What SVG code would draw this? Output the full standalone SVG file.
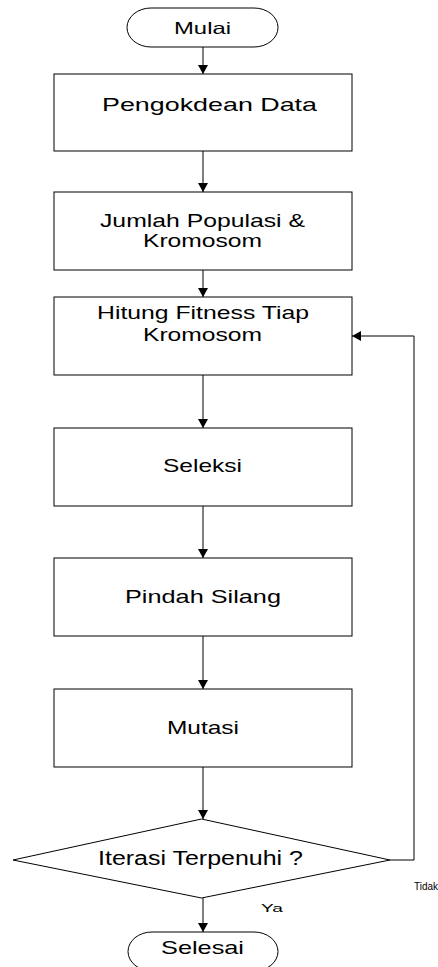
<svg xmlns="http://www.w3.org/2000/svg" width="438" height="967" viewBox="0 0 438 967">
<style>
.shape{fill:#fff;stroke:#000;stroke-width:1}
.conn{fill:none;stroke:#000;stroke-width:1}
text{font-family:"Liberation Sans",Arial,sans-serif;fill:#000}
.t{font-size:19px}
.s{font-size:10px}
</style>
<defs>
<marker id="arr" markerUnits="userSpaceOnUse" markerWidth="10" markerHeight="10" refX="9" refY="5" orient="auto">
<path d="M0,0 L9,5 L0,10 Z" fill="#000"/>
</marker>
</defs>
<g id="connectors">
<line class="conn" x1="203" y1="47" x2="203" y2="74" marker-end="url(#arr)"/>
<line class="conn" x1="203" y1="151" x2="203" y2="192" marker-end="url(#arr)"/>
<line class="conn" x1="203" y1="270" x2="203" y2="297" marker-end="url(#arr)"/>
<line class="conn" x1="203" y1="375" x2="203" y2="428" marker-end="url(#arr)"/>
<line class="conn" x1="203" y1="506" x2="203" y2="558" marker-end="url(#arr)"/>
<line class="conn" x1="203" y1="636" x2="203" y2="689" marker-end="url(#arr)"/>
<line class="conn" x1="203" y1="767" x2="203" y2="819" marker-end="url(#arr)"/>
<line class="conn" x1="203" y1="898" x2="203" y2="932" marker-end="url(#arr)"/>
<polyline class="conn" points="390,860 414,860 414,336 352,336" marker-end="url(#arr)"/>
<text class="s" x="261" y="912" textLength="22" lengthAdjust="spacingAndGlyphs">Ya</text>
<text class="s" x="414" y="890" textLength="24" lengthAdjust="spacingAndGlyphs">Tidak</text>
</g>
<g id="mulai">
<rect class="shape" x="127" y="8" width="151" height="39" rx="24" ry="19.5"/>
<text x="174" y="33.5" font-size="16.5" textLength="57" lengthAdjust="spacingAndGlyphs">Mulai</text>
</g>
<g id="pengkodean">
<rect class="shape" x="54" y="74" width="298" height="77"/>
<text class="t" x="102" y="111" textLength="215" lengthAdjust="spacingAndGlyphs">Pengokdean Data</text>
</g>
<g id="populasi">
<rect class="shape" x="54" y="192" width="298" height="78"/>
<text class="t" x="100" y="227" textLength="205" lengthAdjust="spacingAndGlyphs">Jumlah Populasi &amp;</text>
<text class="t" x="143" y="247" textLength="119" lengthAdjust="spacingAndGlyphs">Kromosom</text>
</g>
<g id="fitness">
<rect class="shape" x="54" y="297" width="298" height="78"/>
<text class="t" x="97" y="319" textLength="212" lengthAdjust="spacingAndGlyphs">Hitung Fitness Tiap</text>
<text class="t" x="143" y="341" textLength="119" lengthAdjust="spacingAndGlyphs">Kromosom</text>
</g>
<g id="seleksi">
<rect class="shape" x="54" y="428" width="298" height="78"/>
<text class="t" x="163" y="472" textLength="79" lengthAdjust="spacingAndGlyphs">Seleksi</text>
</g>
<g id="pindahsilang">
<rect class="shape" x="54" y="558" width="298" height="78"/>
<text class="t" x="125" y="603" textLength="156" lengthAdjust="spacingAndGlyphs">Pindah Silang</text>
</g>
<g id="mutasi">
<rect class="shape" x="54" y="689" width="298" height="78"/>
<text class="t" x="167" y="734" textLength="72" lengthAdjust="spacingAndGlyphs">Mutasi</text>
</g>
<g id="iterasi">
<polygon class="shape" points="201.5,819 390,860 201.5,898 13,860"/>
<text x="98" y="865" font-size="19.5" textLength="205" lengthAdjust="spacingAndGlyphs">Iterasi Terpenuhi ?</text>
</g>
<g id="selesai">
<rect class="shape" x="128" y="932" width="150" height="39" rx="24" ry="19.5"/>
<text class="t" x="161" y="954" textLength="83" lengthAdjust="spacingAndGlyphs">Selesai</text>
</g>
</svg>
